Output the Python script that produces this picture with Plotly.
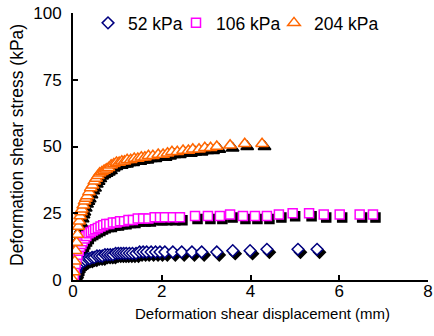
import plotly.graph_objects as go

# 52 kPa
x52 = [0, 0.02, 0.04, 0.06, 0.08, 0.10, 0.13, 0.16, 0.20, 0.24, 0.28, 0.33, 0.38, 0.43, 0.48,
       0.54, 0.60, 0.66, 0.72, 0.78, 0.84, 0.90, 0.96, 1.02, 1.08, 1.14, 1.20, 1.27, 1.34, 1.42,
       1.50, 1.58, 1.66, 1.76, 1.86, 1.96, 2.07, 2.25, 2.45, 2.68, 2.90, 3.24, 3.60, 3.99, 4.37,
       5.07, 5.50]
y52 = [0, 1, 2, 3, 4, 5, 5.5, 6, 6.5, 7, 7.5, 8, 8, 8.5, 8.5,
       9, 9, 9, 9.5, 9.5, 9.5, 9.5, 10, 10, 10, 10, 10, 10, 10, 10,
       10.5, 10.5, 10.5, 10.5, 10.5, 10.5, 10.5, 10.5, 10.5, 10.5, 10.5, 10.5, 11, 11, 11.5,
       11.5, 11.5]

# 106 kPa
x106 = [0, 0.02, 0.04, 0.06, 0.08, 0.10, 0.13, 0.16, 0.19, 0.22, 0.26, 0.30, 0.35, 0.40, 0.45,
        0.50, 0.56, 0.62, 0.68, 0.75, 0.82, 0.90, 0.98, 1.06, 1.15, 1.25, 1.35, 1.46, 1.58, 1.70,
        1.84, 1.96, 2.07, 2.25, 2.41, 2.75, 3.04, 3.31, 3.54, 3.83, 4.10, 4.37, 4.64, 4.95, 5.32,
        5.65, 6.01, 6.46, 6.76]
y106 = [0, 2, 4, 6, 8, 9.5, 11, 12.5, 13.5, 14.5, 15.5, 16.5, 17.5, 18, 18.5,
        19, 19.5, 20, 20.5, 21, 21, 21.5, 21.5, 22, 22, 22.5, 22.5, 23, 23, 23,
        23.5, 23.5, 23.5, 23.5, 23.5, 24, 24, 24, 24.5, 24, 24, 24, 24.5, 25, 25,
        24.5, 24.5, 24.5, 24.5]

# 204 kPa
x204 = [0.0, 0.02, 0.04, 0.06, 0.08, 0.10, 0.12, 0.14, 0.16, 0.18, 0.20, 0.23, 0.26, 0.29, 0.32,
        0.36, 0.40, 0.44, 0.48, 0.52, 0.56, 0.60, 0.65, 0.70, 0.75, 0.80, 0.86, 0.92, 0.98, 1.04,
        1.10, 1.16, 1.22, 1.30, 1.38, 1.46, 1.54, 1.62, 1.70, 1.80, 1.92, 2.03, 2.13, 2.23, 2.35,
        2.48, 2.60, 2.70, 2.84, 2.97, 3.10, 3.24, 3.54, 3.87, 4.26]
y204 = [0, 3, 7, 11, 14, 17, 20, 22, 24, 25.5, 26.5, 28, 29.5, 30.5, 31.5,
        33, 34.5, 35.5, 37, 38, 39, 40, 40.5, 41, 41.5, 42, 43, 43.5, 44, 44,
        44.5, 44.5, 45, 45, 45.5, 45.5, 46, 46, 46.5, 46.5, 47, 47, 47.5, 48, 48,
        48.5, 48.5, 49, 49, 49.5, 49.5, 50, 50.5, 51, 51]

series_names = ["52 kPa", "106 kPa", "204 kPa"]
colors = ["#000080", "#FF00FF", "#FF6600"]
symbols = ["diamond", "square", "triangle-up"]
sizes = [9, 9, 11]
xtick_vals = [0, 2, 4, 6, 8]
ytick_vals = [0, 25, 50, 75, 100]

xs = [x52, x106, x204]
ys = [y52, y106, y204]

W, H = 434, 336
ml, mr, mt, mb = 73, 6, 13, 56
pw = W - ml - mr
ph = H - mt - mb
xr = [0, 8]
yr = [0, 100]
dxpx, dypx = 2.5, 3.0
dx = dxpx * (xr[1] - xr[0]) / pw
dy = dypx * (yr[1] - yr[0]) / ph

fig = go.Figure()
for x, y, s, sz in zip(xs, ys, symbols, sizes):
    fig.add_trace(go.Scatter(x=x, y=y, mode="markers", showlegend=False, hoverinfo="skip",
                             marker=dict(symbol=s, size=sz, color="black",
                                         line=dict(color="black", width=1.5)),
                             xaxis="x", yaxis="y"))
legend_ids = ["legend", "legend2", "legend3"]
for x, y, n, c, s, sz, lg in zip(xs, ys, series_names, colors, symbols, sizes, legend_ids):
    fig.add_trace(go.Scatter(x=x, y=y, mode="markers", name=n, legend=lg,
                             marker=dict(symbol=s, size=sz, color="white",
                                         line=dict(color=c, width=1.5)),
                             xaxis="x2", yaxis="y2"))

fam = "Arial, Liberation Sans, sans-serif"
tickfont = dict(family=fam, size=17, color="black")
xtitlefont = dict(family=fam, size=15, color="black")
ytitlefont = dict(family=fam, size=17.5, color="black")
legfont = dict(family=fam, size=17.5, color="black")

def leg(xpx):
    return dict(orientation="h", x=(xpx - ml) / pw, y=1.03, xanchor="left", yanchor="top",
                bgcolor="rgba(0,0,0,0)", font=legfont, itemwidth=30)

fig.update_layout(
    width=W, height=H,
    margin=dict(l=ml, r=mr, t=mt, b=mb, autoexpand=False),
    paper_bgcolor="white", plot_bgcolor="white",
    font=tickfont,
    xaxis=dict(range=[xr[0] - dx, xr[1] - dx], visible=False, showgrid=False, zeroline=False,
               automargin=False),
    yaxis=dict(range=[yr[0] + dy, yr[1] + dy], visible=False, showgrid=False, zeroline=False,
               automargin=False),
    xaxis2=dict(range=xr, overlaying="x", anchor="y2", side="bottom",
                showline=True, linecolor="black", linewidth=2,
                ticks="inside", ticklen=5, tickwidth=2, tickcolor="black",
                tickvals=xtick_vals, showgrid=False, zeroline=False, automargin=False,
                ticklabeloverflow="allow", ticklabelstandoff=-5, tickfont=tickfont),
    yaxis2=dict(range=yr, overlaying="y", anchor="x2", side="left",
                showline=True, linecolor="black", linewidth=2,
                ticks="inside", ticklen=5, tickwidth=2, tickcolor="black",
                tickvals=ytick_vals, showgrid=False, zeroline=False, automargin=False,
                ticklabeloverflow="allow", ticklabelstandoff=6, tickfont=tickfont),
    legend=leg(88),
    legend2=leg(176),
    legend3=leg(274),
    showlegend=True,
    annotations=[
        dict(text="Deformation shear displacement (mm)", xref="paper", yref="paper",
             x=(262 - ml) / pw, y=(H - mb - 313) / ph, xanchor="center", yanchor="middle",
             showarrow=False, font=xtitlefont),
        dict(text="Deformation shear stress (kPa)", xref="paper", yref="paper",
             x=(17 - ml) / pw, y=(H - mb - 145) / ph, xanchor="center", yanchor="middle",
             textangle=-90, showarrow=False, font=ytitlefont),
    ],
)

fig.write_html("out.html", config={"displayModeBar": False},
               post_script="document.body.style.margin='0';document.body.style.overflow='hidden';")
